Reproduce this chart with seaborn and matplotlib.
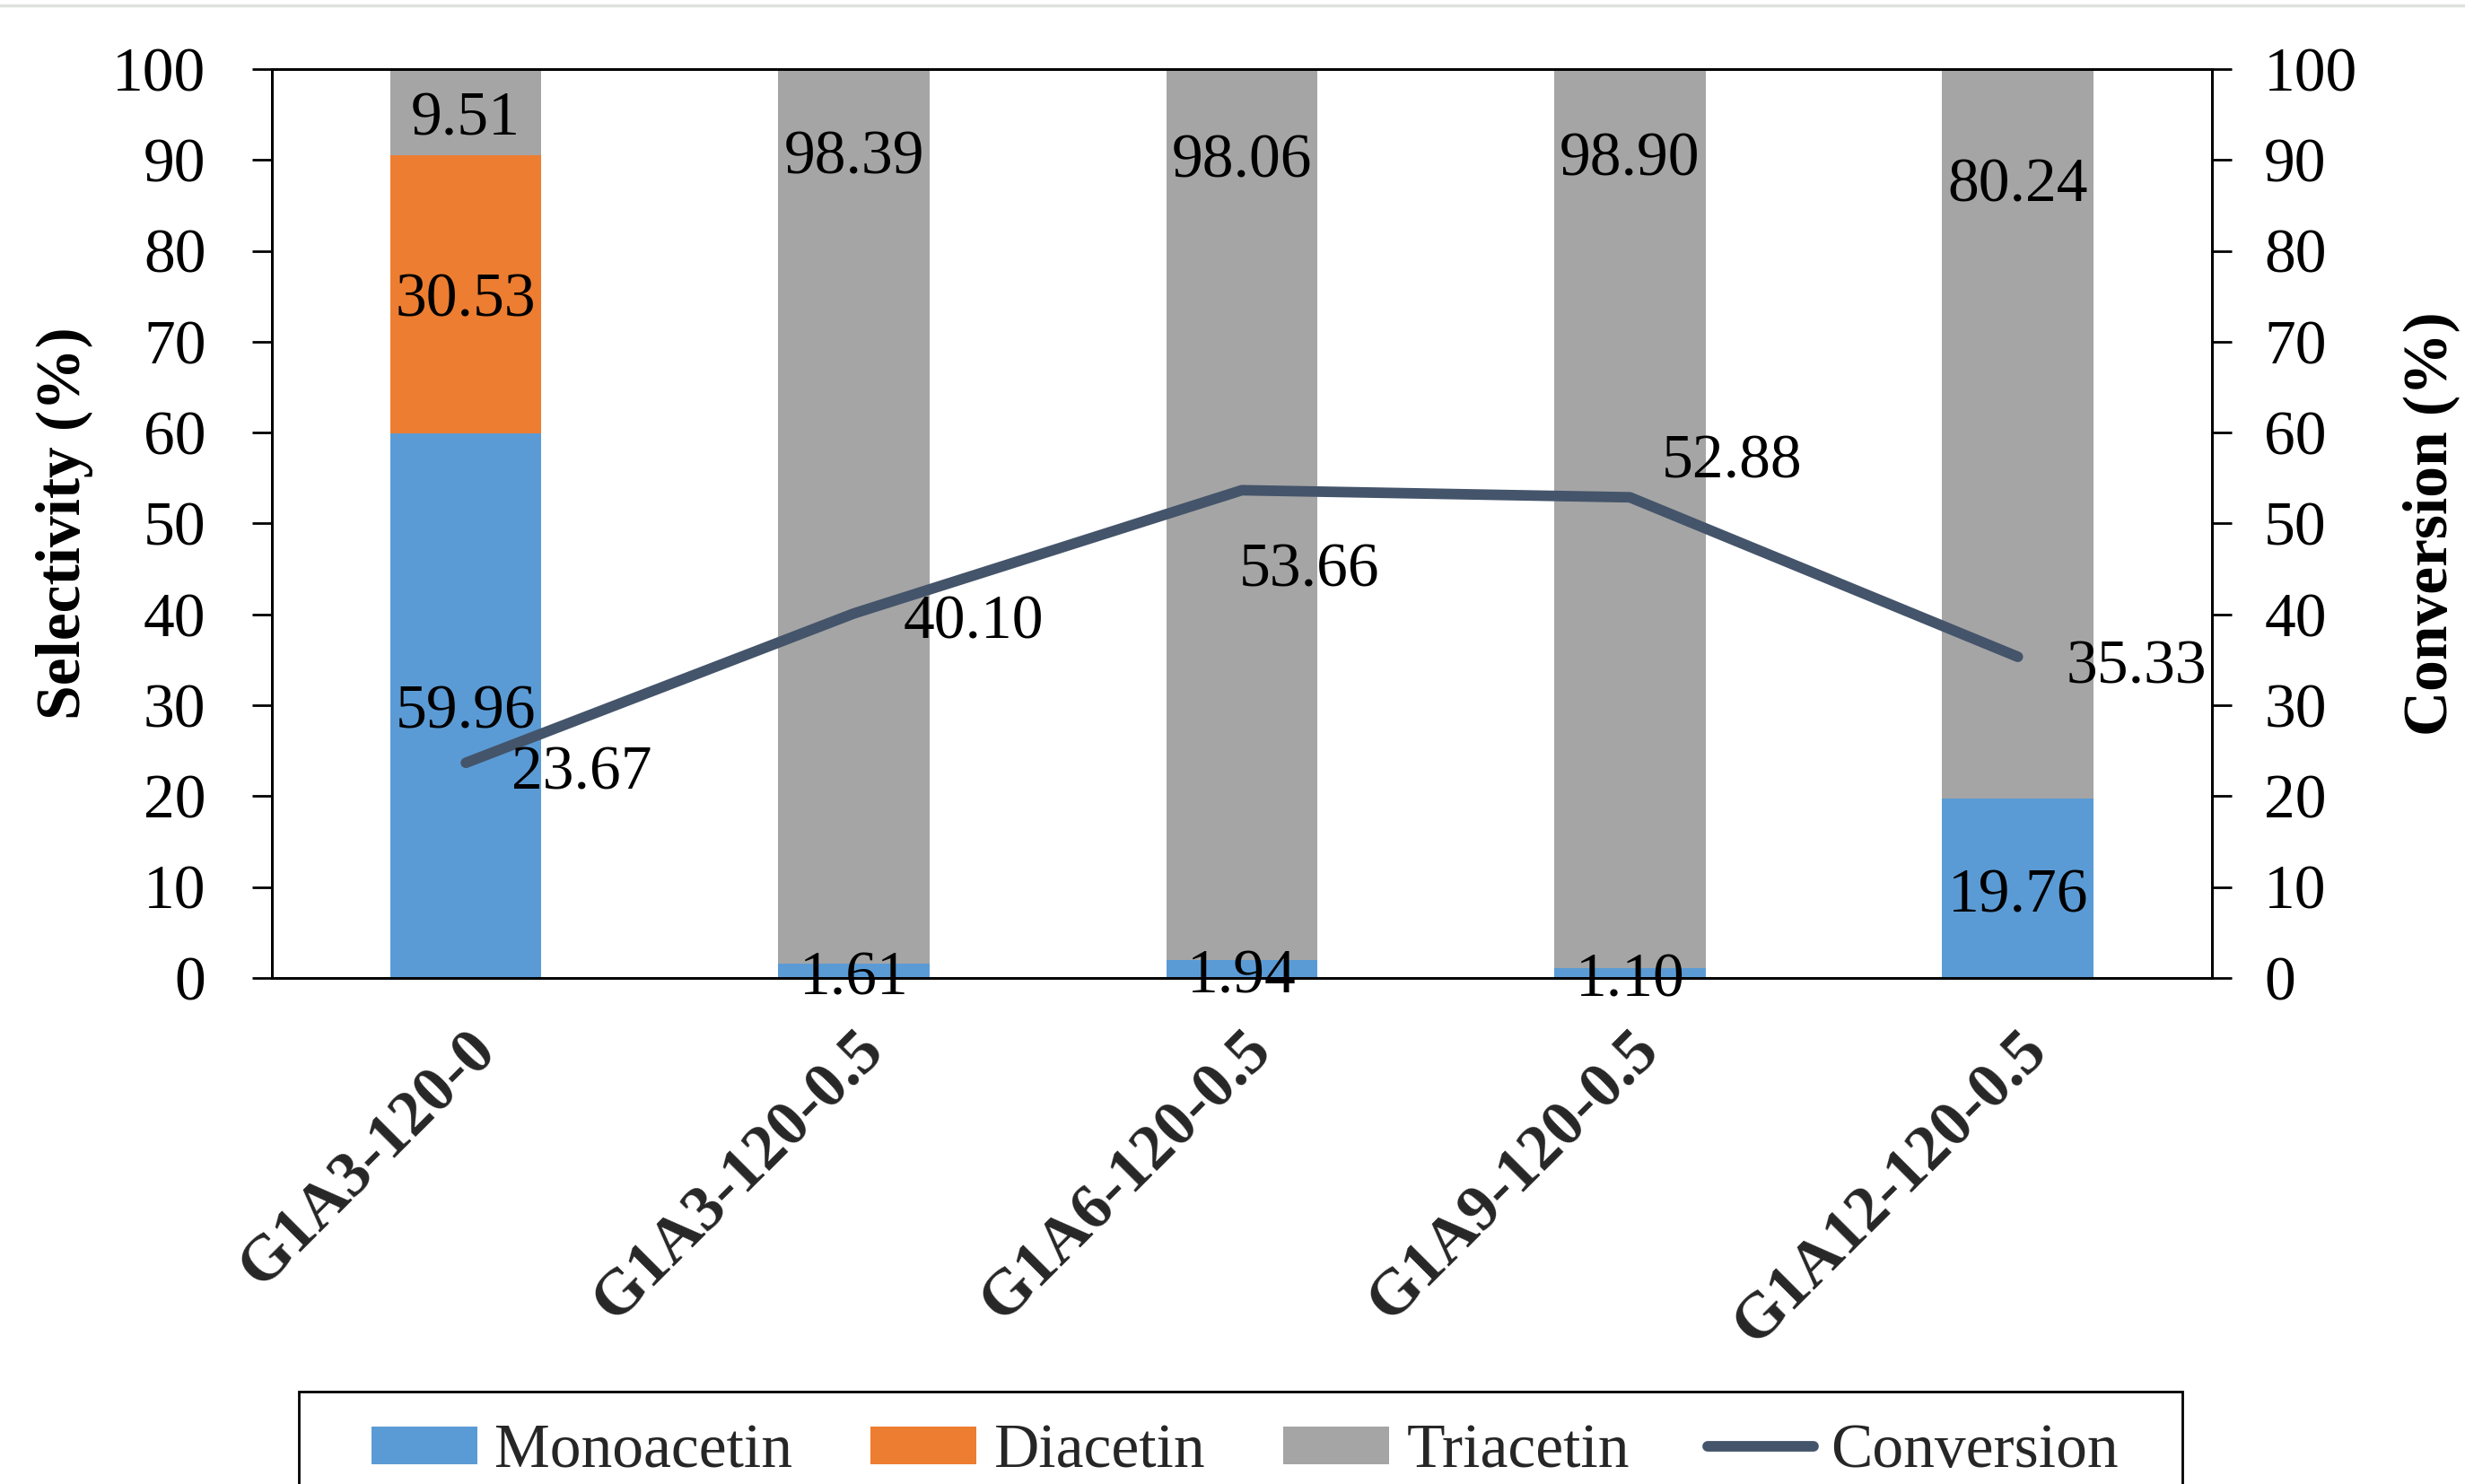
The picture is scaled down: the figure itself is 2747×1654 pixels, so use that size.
import numpy as np
import pandas as pd
import matplotlib
matplotlib.use("Agg")
import matplotlib.pyplot as plt
from matplotlib.patches import Patch, Rectangle
from matplotlib.lines import Line2D
import seaborn as sns

# ---- data -------------------------------------------------------------
categories = ["G1A3-120-0", "G1A3-120-0.5", "G1A6-120-0.5", "G1A9-120-0.5", "G1A12-120-0.5"]
monoacetin = [59.96, 1.61, 1.94, 1.10, 19.76]
diacetin = [30.53, 0.0, 0.0, 0.0, 0.0]
triacetin = [9.51, 98.39, 98.06, 98.90, 80.24]
conversion = [23.67, 40.10, 53.66, 52.88, 35.33]
y_ticks = [0, 10, 20, 30, 40, 50, 60, 70, 80, 90, 100]

# ---- style ------------------------------------------------------------
BLUE, ORANGE, GRAY, NAVY = "#5B9BD5", "#ED7D31", "#A5A5A5", "#44546A"
FS = 50
LINE_W = 8.5

# label offsets (points) for the value annotations
mono_dy = [-6, -7, -7, -7, -7]
di_dy = [-6, 0, 0, 0, 0]
tri_dy = [-41, -72, -75, -73, -94]
conv_offsets = [(93, -9), (96, -8), (54, -65), (82, 28), (95, -9)]

sns.set_theme(style="white")
plt.rcParams["font.family"] = ["Liberation Serif", "DejaVu Serif"]

fig = plt.figure(figsize=(27.47, 16.54), dpi=100)
ax = fig.add_axes([0.1103, 0.341, 0.787, 0.6125])

df = pd.DataFrame({
    "sample": categories,
    "Monoacetin": monoacetin,
    "Diacetin": diacetin,
    "Triacetin": triacetin,
})
df["mono_top"] = df["Monoacetin"]
df["di_top"] = df["Monoacetin"] + df["Diacetin"]
df["tri_top"] = df["di_top"] + df["Triacetin"]

# stacked bars drawn as overlapping cumulative totals
for col, color in [("tri_top", GRAY), ("di_top", ORANGE), ("mono_top", BLUE)]:
    sns.barplot(data=df, x="sample", y=col, order=categories, color=color,
                saturation=1, width=0.39, linewidth=0, errorbar=None, ax=ax)

ax.set_xlim(-0.5, len(categories) - 0.5)
ax.set_ylim(0, 100)
ax.set_yticks(y_ticks)
ax.set_xticks(range(len(categories)))
ax.set_xticklabels(categories, rotation=45, ha="right", va="top",
                   rotation_mode="anchor", fontweight="bold", fontsize=FS + 2)
ax.tick_params(axis="x", length=0, pad=34)
ax.tick_params(axis="y", direction="out", length=16, width=2, labelsize=FS,
               pad=37, left=True, right=False, colors="black")
ax.set_xlabel("")
ax.set_ylabel("Selectivity (%)", fontsize=FS, fontweight="bold", color="black")
ax.yaxis.set_label_coords(-0.107, 0.5)
ax.yaxis.label.set_verticalalignment("center")
ax.yaxis.label.set_horizontalalignment("center")
for sp in ax.spines.values():
    sp.set_visible(True)
    sp.set_color("black")
    sp.set_linewidth(2)

# bar value labels
for i in range(len(categories)):
    if monoacetin[i] > 0:
        ax.annotate(f"{monoacetin[i]:.2f}", (i, monoacetin[i] / 2),
                    xytext=(0, mono_dy[i]), textcoords="offset points",
                    ha="center", va="center", fontsize=FS, color="black")
    if diacetin[i] > 0:
        ax.annotate(f"{diacetin[i]:.2f}", (i, monoacetin[i] + diacetin[i] / 2),
                    xytext=(0, di_dy[i]), textcoords="offset points",
                    ha="center", va="center", fontsize=FS, color="black")
    if triacetin[i] > 0:
        ax.annotate(f"{triacetin[i]:.2f}", (i, df["tri_top"][i]),
                    xytext=(0, tri_dy[i]), textcoords="offset points",
                    ha="center", va="center", fontsize=FS, color="black")

# conversion line on the secondary axis
ax2 = ax.twinx()
sns.lineplot(x=np.arange(len(categories)), y=conversion, color=NAVY,
             linewidth=LINE_W, solid_capstyle="round", ax=ax2)
ax2.set_ylim(0, 100)
ax2.set_yticks(y_ticks)
ax2.tick_params(axis="y", direction="out", length=16, width=2, labelsize=FS,
                pad=26, right=True, left=False, colors="black")
ax2.set_ylabel("Conversion (%)", fontsize=FS, fontweight="bold", color="black")
ax2.yaxis.set_label_coords(1.113, 0.5)
ax2.yaxis.label.set_verticalalignment("center")
ax2.yaxis.label.set_horizontalalignment("center")
ax2.yaxis.label.set_rotation(90)
for sp in ax2.spines.values():
    sp.set_color("black")
    sp.set_linewidth(2)

for i, (dx, dy) in enumerate(conv_offsets):
    ax2.annotate(f"{conversion[i]:.2f}", (i, conversion[i]), xytext=(dx, dy),
                 textcoords="offset points", ha="center", va="center",
                 fontsize=FS, color="black")

# legend
handles = [
    Patch(facecolor=BLUE, edgecolor="none", label="Monoacetin"),
    Patch(facecolor=ORANGE, edgecolor="none", label="Diacetin"),
    Patch(facecolor=GRAY, edgecolor="none", label="Triacetin"),
    Line2D([], [], color=NAVY, linewidth=LINE_W, label="Conversion"),
]
fig.legend(handles=handles, loc="center", bbox_to_anchor=(0.5050, 0.0215),
           ncol=4, frameon=False, fontsize=FS, handlelength=1.7,
           handleheight=0.55, handletextpad=0.28, columnspacing=1.25,
           borderpad=0, borderaxespad=0)
fig.add_artist(Rectangle((0.1212, -0.1), 0.7641, 0.1623,
                         transform=fig.transFigure, fill=False,
                         edgecolor="black", linewidth=2, clip_on=False))

# thin border line along the top edge
fig.add_artist(Line2D([0, 1], [0.9965, 0.9965], transform=fig.transFigure,
                      color="#dde2dd", linewidth=2.5))

fig.savefig("out.png", dpi=100)
